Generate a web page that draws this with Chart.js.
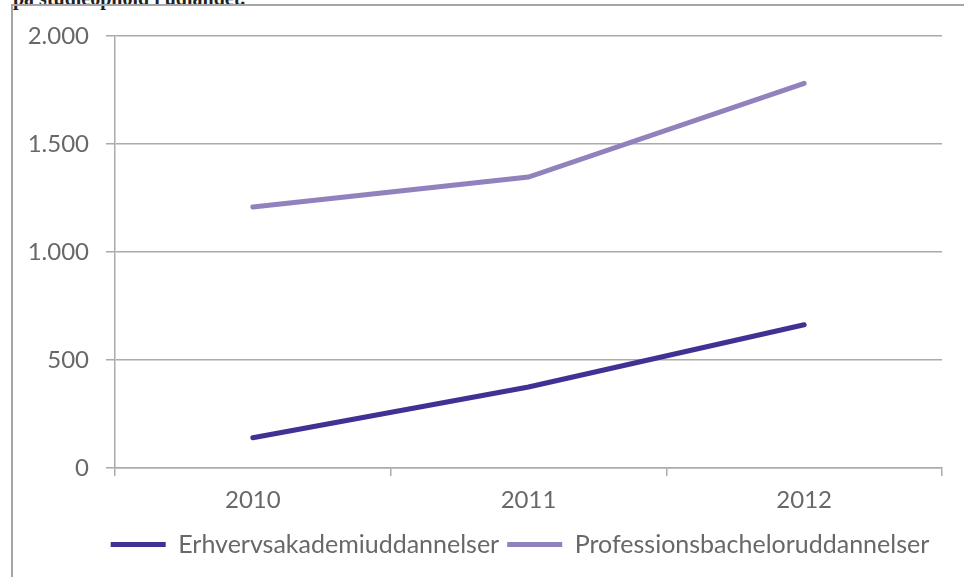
<!DOCTYPE html>
<html>
<head>
<meta charset="utf-8">
<script src="https://cdn.jsdelivr.net/npm/chart.js@4.4.0/dist/chart.umd.min.js"></script>
<style>
  html, body { margin: 0; padding: 0; background: #fff; overflow: hidden; width: 964px; height: 577px; }
  #title { position: absolute; left: 13px; top: -13px; font: bold 20px "Liberation Serif", serif; color: #222; white-space: nowrap; }
  #frame { position: absolute; left: 11px; top: 4px; width: 1200px; height: 800px; border: 2px solid #a6a6a6; }
  #chart { position: absolute; left: 0; top: 0; }
</style>
</head>
<body>
<div id="title">på studieophold i udlandet.</div>
<div id="frame"></div>
<canvas id="chart" width="964" height="577"></canvas>
<script>
const years = ['2010', '2011', '2012'];
const erhvervsakademi = [140, 375, 663];
const professionsbachelor = [1208, 1347, 1781];
const yMax = 2000;
const yStep = 500;

// dansk tusindtalsseparator
function fmt(v) {
  return String(v).replace(/\B(?=(\d{3})+(?!\d))/g, '.');
}

const textColor = '#686868';
const lineGrey = '#ababab';
const tickFont = { family: 'Lato', size: 24 };
const legendFont = { family: 'Lato', size: 25 };

// legenden er centreret under plotområdet, ikke under hele lærredet
const legendShift = {
  id: 'legendShift',
  afterLayout(chart) {
    chart.legend.left += 49;
    chart.legend.right += 49;
  }
};

new Chart(document.getElementById('chart'), {
  type: 'line',
  data: {
    labels: years,
    datasets: [{
      label: 'Erhvervsakademiuddannelser',
      data: erhvervsakademi,
      borderColor: '#403294',
      backgroundColor: '#403294',
      borderWidth: 5,
      borderCapStyle: 'round',
      pointRadius: 0,
      tension: 0
    }, {
      label: 'Professionsbacheloruddannelser',
      data: professionsbachelor,
      borderColor: '#9182bd',
      backgroundColor: '#9182bd',
      borderWidth: 5,
      borderCapStyle: 'round',
      pointRadius: 0,
      tension: 0
    }]
  },
  options: {
    responsive: false,
    animation: false,
    layout: { padding: { left: 0, right: 22, top: 36, bottom: 10 } },
    plugins: {
      tooltip: { enabled: false },
      legend: {
        position: 'bottom',
        labels: {
          usePointStyle: true,
          pointStyle: 'line',
          pointStyleWidth: 55,
          color: textColor,
          font: legendFont,
          padding: 8
        }
      }
    },
    scales: {
      x: {
        offset: true,
        grid: { offset: true, drawOnChartArea: false, drawTicks: true, tickLength: 8, color: lineGrey, lineWidth: 1.5 },
        border: { color: lineGrey, width: 1.5 },
        ticks: { color: textColor, font: tickFont, padding: 10 },
        afterFit: function(s) { s.height = 56; }
      },
      y: {
        min: 0,
        max: yMax,
        ticks: { stepSize: yStep, color: textColor, font: tickFont, padding: 17, callback: v => fmt(v) },
        grid: { color: lineGrey, lineWidth: 1.5, tickLength: 9 },
        border: { color: lineGrey, width: 1.5 },
        afterFit: function(s) { s.width = 115; }
      }
    }
  },
  plugins: [legendShift]
});
</script>
</body>
</html>
